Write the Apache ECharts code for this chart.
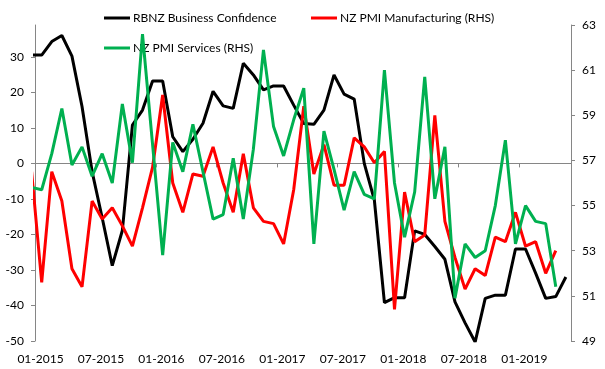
<!DOCTYPE html>
<html>
<head>
<meta charset="utf-8">
<script src="https://cdn.jsdelivr.net/npm/echarts@6/dist/echarts.min.js"></script>
<style>
html,body{margin:0;padding:0;background:#fff;}
#chart{width:605px;height:369px;}
</style>
</head>
<body>
<div id="chart"></div>
<script>
// Months Dec 2014 .. May 2019 (first month is partly clipped at the axis start)
const months = ['12-2014',
 '01-2015','02-2015','03-2015','04-2015','05-2015','06-2015','07-2015','08-2015','09-2015','10-2015','11-2015','12-2015',
 '01-2016','02-2016','03-2016','04-2016','05-2016','06-2016','07-2016','08-2016','09-2016','10-2016','11-2016','12-2016',
 '01-2017','02-2017','03-2017','04-2017','05-2017','06-2017','07-2017','08-2017','09-2017','10-2017','11-2017','12-2017',
 '01-2018','02-2018','03-2018','04-2018','05-2018','06-2018','07-2018','08-2018','09-2018','10-2018','11-2018','12-2018',
 '01-2019','02-2019','03-2019','04-2019','05-2019'];

const businessConfidence = [30.5,
 30.5,34.3,36.0,30.2,16.0,-2.3,-15.3,-28.8,-18.9,10.8,15.0,23.2,
 23.2,7.5,3.3,6.8,11.3,20.3,16.2,15.5,28.2,24.9,20.7,21.8,
 21.8,16.4,11.2,11.0,15.0,24.9,19.5,18.1,0.0,-10.3,-39.2,-37.8,
 -37.8,-19.0,-20.0,-23.4,-27.0,-39.0,-44.9,-50.3,-38.0,-37.1,-37.1,-24.1,
 -24.1,-30.9,-38.0,-37.5,-32.0];

const pmiManufacturing = [56.5,
 51.6,56.5,55.2,52.2,51.4,55.2,54.4,54.9,54.1,53.2,54.9,56.7,
 59.9,56.0,54.7,56.4,56.3,57.6,56.0,54.7,57.3,54.9,54.3,54.2,
 53.3,55.7,59.4,56.4,57.7,55.9,55.9,58.0,57.6,56.9,57.4,50.4,
 55.6,53.4,53.7,59.0,54.3,52.7,51.3,52.2,51.9,53.6,53.4,54.7,
 53.2,53.4,52.0,53.0,null];

const pmiServices = [55.8,
 55.7,57.3,59.3,56.8,57.6,56.3,57.3,56.0,59.5,56.9,62.6,57.7,
 52.8,57.8,56.5,58.6,56.5,54.4,54.6,57.1,54.4,57.5,61.9,58.5,
 57.2,58.8,60.2,53.3,58.3,56.6,54.8,56.5,55.5,55.3,61.0,56.0,
 53.6,55.6,60.7,55.3,57.6,50.9,53.3,52.7,53.0,55.0,57.9,53.3,
 55.0,54.3,54.2,51.4,null];

const xTickLabels = ['01-2015','07-2015','01-2016','07-2016','01-2017','07-2017','01-2018','07-2018','01-2019'];
const leftTicks = [-50,-40,-30,-20,-10,0,10,20,30];
const rightTicks = [49,51,53,55,57,59,61,63];

const toPairs = arr => arr.map((v, i) => [i - 1, v]);
const AXIS_GRAY = '#868686';
const FONT = 'Lato';

const chart = echarts.init(document.getElementById('chart'), null, {renderer: 'canvas'});
chart.setOption({
  animation: false,
  backgroundColor: '#ffffff',
  textStyle: {fontFamily: FONT},
  grid: {left: 35, right: 34, top: 25, bottom: 28, containLabel: false, outerBoundsMode: 'none'},
  legend: [
    {data: ['RBNZ Business Confidence'], left: 104, top: 12, padding: 0, icon: 'rect', itemWidth: 26, itemHeight: 3,
     textStyle: {fontFamily: FONT, fontSize: 12, color: '#000', padding: [0,0,0,-2]}},
    {data: ['NZ PMI Manufacturing (RHS)'], left: 311, top: 12, padding: 0, icon: 'rect', itemWidth: 26, itemHeight: 3,
     textStyle: {fontFamily: FONT, fontSize: 12, color: '#000', padding: [0,0,0,-2]}},
    {data: ['NZ PMI Services (RHS)'], left: 104, top: 42, padding: 0, icon: 'rect', itemWidth: 26, itemHeight: 3,
     textStyle: {fontFamily: FONT, fontSize: 12, color: '#000', padding: [0,0,0,-2]}}
  ],
  xAxis: [
    {
      type: 'value', position: 'bottom', min: 0, max: 53.175, interval: 6,
      axisLine: {show: true, onZero: true, onZeroAxisIndex: 0, lineStyle: {color: AXIS_GRAY, width: 1}},
      axisTick: {show: true, length: 4, lineStyle: {color: AXIS_GRAY}},
      splitLine: {show: false},
      axisLabel: {
        show: true, margin: 12, fontFamily: FONT, fontSize: 12, color: '#000',
        padding: [0,0,0,11], showMaxLabel: false,
        formatter: v => { const j = Math.round(v / 6); return (Math.abs(v - j * 6) < 1e-6 && xTickLabels[j]) ? xTickLabels[j] : ''; }
      }
    },
    {
      type: 'value', position: 'top', min: -0.665, max: 52.51, show: false,
      axisLine: {onZero: false}, splitLine: {show: false}
    }
  ],
  yAxis: [
    {
      type: 'value', position: 'left', min: -50, max: 38.96, interval: 10,
      axisLine: {show: true, onZero: false, lineStyle: {color: AXIS_GRAY, width: 1}},
      axisTick: {show: true, length: 4, lineStyle: {color: AXIS_GRAY}},
      splitLine: {show: false},
      axisLabel: {margin: 11, fontFamily: FONT, fontSize: 12, color: '#000', showMaxLabel: false,
        formatter: v => leftTicks.includes(Math.round(v)) && Math.abs(v - Math.round(v)) < 1e-6 ? String(Math.round(v)) : ''}
    },
    {
      type: 'value', position: 'right', min: 49, max: 63, interval: 2,
      axisLine: {show: true, onZero: false, lineStyle: {color: AXIS_GRAY, width: 1}},
      axisTick: {show: true, length: 4, lineStyle: {color: AXIS_GRAY}},
      splitLine: {show: false},
      axisLabel: {margin: 11, fontFamily: FONT, fontSize: 12, color: '#000',
        formatter: v => rightTicks.includes(Math.round(v)) ? String(Math.round(v)) : ''}
    }
  ],
  series: [
    {name: 'RBNZ Business Confidence', type: 'line', xAxisIndex: 1, yAxisIndex: 0, data: toPairs(businessConfidence),
     symbol: 'none', clip: true, color: '#000000', lineStyle: {width: 3, color: '#000000'}, z: 2},
    {name: 'NZ PMI Manufacturing (RHS)', type: 'line', xAxisIndex: 1, yAxisIndex: 1, data: toPairs(pmiManufacturing),
     symbol: 'none', clip: true, color: '#FF0000', lineStyle: {width: 3, color: '#FF0000'}, z: 3},
    {name: 'NZ PMI Services (RHS)', type: 'line', xAxisIndex: 1, yAxisIndex: 1, data: toPairs(pmiServices),
     symbol: 'none', clip: true, color: '#00B050', lineStyle: {width: 3, color: '#00B050'}, z: 4}
  ]
});
</script>
</body>
</html>
